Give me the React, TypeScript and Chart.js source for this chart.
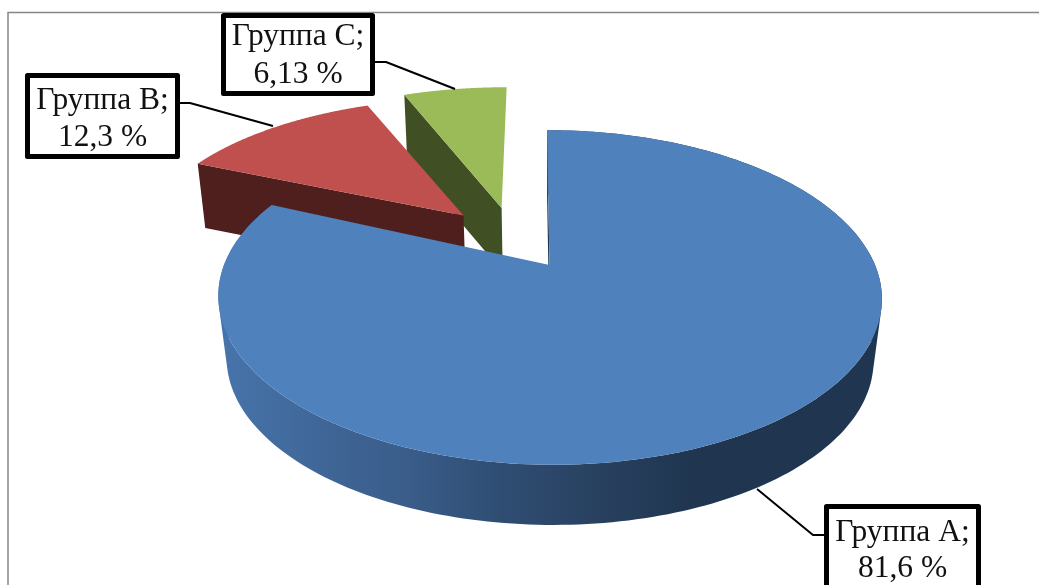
import React, { useEffect, useRef } from "react";
import { Chart, registerables } from "chart.js";

Chart.register(...registerables);

const categories = ["Группа А", "Группа В", "Группа С"];
const shares = [81.6, 12.3, 6.13];
const shareTexts = ["81,6 %", "12,3 %", "6,13 %"];
const topColors = ["#4F81BD", "#C0504D", "#9BBB59"];
const wallColors = ["#1F3550", "#4F1F1E", "#404F24"];
const explodePx = [58, 58, 58];

const VIEW = { x0: 549.5, y0: 265, rx: 325.5, ry: 161, k: 0.194, shear: -3, ryB: 151, drop: 65, m: 0.025 };
const SLICE_VIEW = [
  { rimX: 1, rimY: 1, skew: 0, nu: 0, nv: 0 },
  { rimX: 1.025, rimY: 0.97, skew: -0.02, nu: -0.004, nv: -0.015 },
  { rimX: 1.05, rimY: 1.025, skew: 0, nu: 0.008, nv: -0.02 },
];

const LABELS = [
  { box: [824, 504, 981, 600], lines: [541, 577], leader: [[757, 489], [813, 535], [824, 535]] },
  { box: [25, 73, 180, 159], lines: [109, 146], leader: [[180, 103], [190, 103], [273, 126]] },
  { box: [221, 13, 375, 96], lines: [45, 83], leader: [[375, 62], [386, 62], [455, 89]] },
];

type P = [number, number];

function project(u: number, v: number, bottom: boolean): P {
  const w = 1 + VIEW.k * v + (bottom ? VIEW.m : 0);
  const X = VIEW.x0 + (VIEW.rx * u + VIEW.shear * v) / w;
  const Y = bottom ? VIEW.y0 + (-VIEW.ryB * v + VIEW.drop) / w : VIEW.y0 - (VIEW.ry * v) / w;
  return [X, Y];
}

function addPoly(ctx: CanvasRenderingContext2D, pts: P[]) {
  let area = 0;
  pts.forEach((p, i) => {
    const q = pts[(i + 1) % pts.length];
    area += p[0] * q[1] - q[0] * p[1];
  });
  const list = area < 0 ? pts.slice().reverse() : pts;
  list.forEach((p, i) => (i ? ctx.lineTo(p[0], p[1]) : ctx.moveTo(p[0], p[1])));
  ctx.closePath();
}

function fillPoly(ctx: CanvasRenderingContext2D, pts: P[], fill: any) {
  ctx.beginPath();
  addPoly(ctx, pts);
  ctx.fillStyle = fill;
  ctx.fill();
}

const pie3d = {
  id: "pie3d",
  beforeDatasetsDraw(chart: any) {
    const ctx: CanvasRenderingContext2D = chart.ctx;
    const arcs = chart.getDatasetMeta(0).data;
    const geo = arcs.map((arc: any) => {
      const p = arc.getProps(["startAngle", "endAngle", "outerRadius"], true);
      const off = arc.options.offset / p.outerRadius;
      const mid = (p.startAngle + p.endAngle) / 2;
      return { a0: p.startAngle, a1: p.endAngle, du: Math.cos(mid) * off, dv: -Math.sin(mid) * off };
    });
    const ref = geo[0];

    const grad = ctx.createLinearGradient(228, 0, 880, 0);
    [
      [0, "#4673A9"],
      [0.16, "#3F6596"],
      [0.27, "#3A5D8A"],
      [0.42, "#2F4D73"],
      [0.57, "#28415F"],
      [0.72, "#1F3550"],
      [1, "#1F3550"],
    ].forEach(([o, c]) => grad.addColorStop(o as number, c as string));

    [2, 1, 0].forEach((i) => {
      const g = geo[i];
      const sv = SLICE_VIEW[i];
      const cu = g.du - ref.du + sv.nu;
      const cv = g.dv - ref.dv + sv.nv;
      const at = (a: number, bottom: boolean) => {
        const lu = sv.rimX * Math.cos(a);
        const lv = -sv.rimY * Math.sin(a);
        return project(cu + lu + sv.skew * lv, cv + lv, bottom);
      };
      const c = (bottom: boolean) => project(cu, cv, bottom);

      fillPoly(ctx, [c(false), at(g.a0, false), at(g.a0, true), c(true)], wallColors[i]);

      const topArc: P[] = [];
      const n = 240;
      if (i === 0) ctx.beginPath();
      for (let s = 0; s <= n; s++) {
        const a = g.a0 + ((g.a1 - g.a0) * s) / n;
        topArc.push(at(a, false));
        if (i === 0 && s < n) {
          const b = g.a0 + ((g.a1 - g.a0) * (s + 1)) / n;
          addPoly(ctx, [at(a, false), at(b, false), at(b, true), at(a, true)]);
        }
      }
      if (i === 0) {
        ctx.fillStyle = grad;
        ctx.fill("nonzero");
      }
      fillPoly(ctx, [c(false), ...topArc], topColors[i]);
    });
    return false;
  },
  afterDraw(chart: any) {
    const ctx: CanvasRenderingContext2D = chart.ctx;
    ctx.save();
    ctx.lineJoin = "round";
    LABELS.forEach((l, i) => {
      ctx.strokeStyle = "#000";
      ctx.lineWidth = 2;
      ctx.beginPath();
      l.leader.forEach((p, j) => (j ? ctx.lineTo(p[0], p[1]) : ctx.moveTo(p[0], p[1])));
      ctx.stroke();

      const [x0, y0, x1, y1] = l.box;
      ctx.fillStyle = "#fff";
      ctx.fillRect(x0, y0, x1 - x0, y1 - y0);
      ctx.lineWidth = 5;
      ctx.strokeRect(x0 + 2.5, y0 + 2.5, x1 - x0 - 5, y1 - y0 - 5);

      ctx.fillStyle = "#111";
      ctx.font = '31.5px "Liberation Serif"';
      ctx.textAlign = "center";
      ctx.textBaseline = "alphabetic";
      const cx = (x0 + x1) / 2;
      ctx.fillText(categories[i] + ";", cx, l.lines[0]);
      ctx.fillText(shareTexts[i], cx, l.lines[1]);
    });
    ctx.restore();
  },
  beforeDraw(chart: any) {
    const ctx: CanvasRenderingContext2D = chart.ctx;
    ctx.save();
    ctx.fillStyle = "#fff";
    ctx.fillRect(0, 0, chart.width, chart.height);
    ctx.strokeStyle = "#868686";
    ctx.lineWidth = 1.5;
    ctx.beginPath();
    ctx.moveTo(8, 585);
    ctx.lineTo(8, 12.5);
    ctx.lineTo(1039, 12.5);
    ctx.stroke();
    ctx.restore();
  },
};

export default function App() {
  const ref = useRef<HTMLCanvasElement>(null);
  useEffect(() => {
    document.body.style.margin = "0";
    const chart = new Chart(ref.current as HTMLCanvasElement, {
      type: "pie",
      data: {
        labels: categories,
        datasets: [
          {
            data: shares,
            backgroundColor: topColors,
            borderWidth: 0,
            offset: explodePx,
          },
        ],
      },
      options: {
        responsive: false,
        animation: false,
        plugins: { legend: { display: false }, tooltip: { enabled: false } },
      },
      plugins: [pie3d],
    } as any);
    return () => chart.destroy();
  }, []);
  return <canvas ref={ref} width={1039} height={585} style={{ display: "block" }} />;
}
